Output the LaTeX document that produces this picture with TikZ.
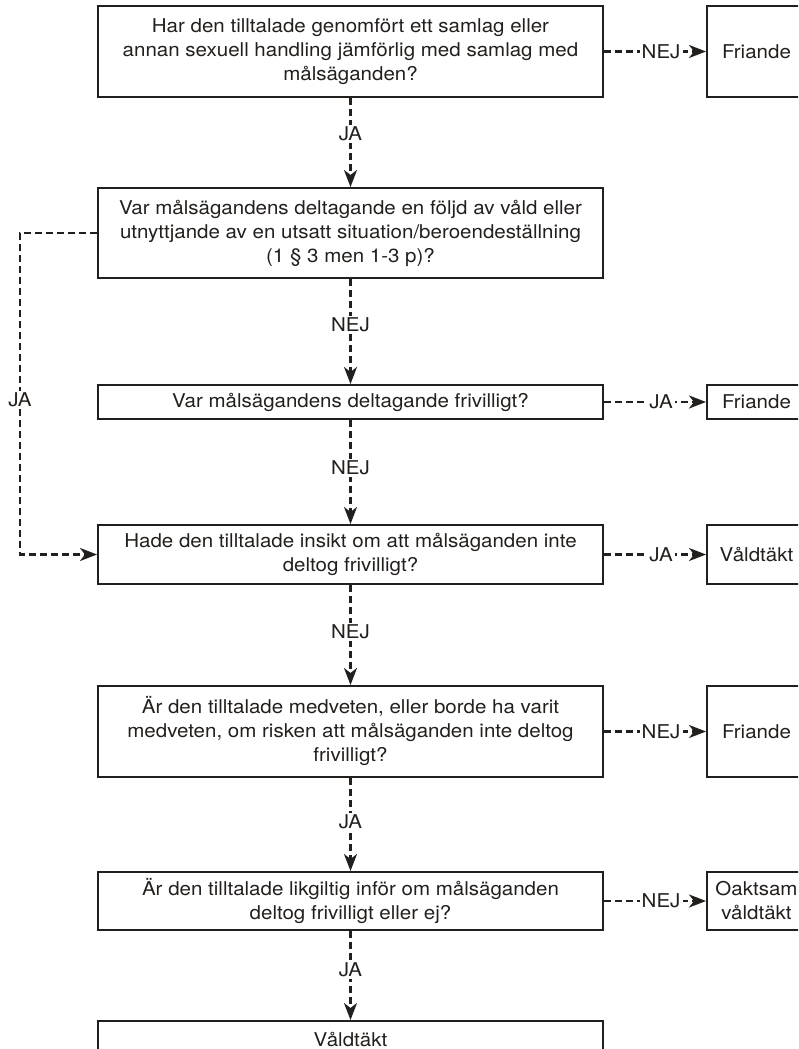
\documentclass[tikz,border=0pt]{standalone}
\usepackage{fontspec}
\setmainfont[FakeStretch=1.08]{TeX Gyre Heros}
\usetikzlibrary{arrows.meta}
\definecolor{ink}{RGB}{35,31,28}
\begin{document}
\begin{tikzpicture}[x=1pt,y=-1pt,
  every node/.style={text=ink, font=\fontsize{19}{24}\selectfont},
  mainbox/.style={draw=ink, line width=2pt, minimum width=505pt, align=center, inner sep=0pt},
  sidebox/.style={draw=ink, line width=2pt, minimum width=99pt, align=center, inner sep=0pt},
  conn/.style={draw=ink, line width=2.4pt, dash pattern=on 7pt off 4pt, -{Stealth[length=17pt,width=13pt,inset=5pt]}},
  lbl/.style={fill=white, inner sep=2pt}
]
\useasboundingbox (0,0) rectangle (798,1049);
\clip (0,0) rectangle (798,1049);

\node[mainbox, minimum height=91pt] (b1) at (350.5,51.5) {Har den tilltalade genomfört ett samlag eller\\annan sexuell handling jämförlig med samlag med\\målsäganden?};
\node[mainbox, minimum height=90pt] (b2) at (350.5,233) {Var målsägandens deltagande en följd av våld eller\\utnyttjande av en utsatt situation/beroendeställning\\(1 § 3 men 1-3 p)?};
\node[mainbox, minimum height=34pt] (b3) at (350.5,402) {Var målsägandens deltagande frivilligt?};
\node[mainbox, minimum height=59pt] (b4) at (350.5,554.5) {Hade den tilltalade insikt om att målsäganden inte\\deltog frivilligt?};
\node[mainbox, minimum height=91pt] (b5) at (350.5,731.5) {Är den tilltalade medveten, eller borde ha varit\\medveten, om risken att målsäganden inte deltog\\frivilligt?};
\node[mainbox, minimum height=58pt] (b6) at (350.5,901) {Är den tilltalade likgiltig inför om målsäganden\\deltog frivilligt eller ej?};
\node[mainbox, minimum height=36pt] (b7) at (350.5,1039) {Våldtäkt};

\node[sidebox, minimum height=91pt] (r1) at (756.5,51.5) {Friande};
\node[sidebox, minimum height=34pt] (r3) at (756.5,402) {Friande};
\node[sidebox, minimum height=59pt] (r4) at (756.5,554.5) {Våldtäkt};
\node[sidebox, minimum height=91pt] (r5) at (756.5,731.5) {Friande};
\node[sidebox, minimum height=58pt] (r6) at (756.5,901) {Oaktsam\\våldtäkt};

% vertical connectors
\draw[conn] (b1) -- node[lbl, pos=0.4] {JA} (b2);
\draw[conn] (b2) -- node[lbl, pos=0.44] {NEJ} (b3);
\draw[conn] (b3) -- node[lbl, pos=0.46] {NEJ} (b4);
\draw[conn] (b4) -- node[lbl, pos=0.47] {NEJ} (b5);
\draw[conn] (b5) -- node[lbl, pos=0.47] {JA} (b6);
\draw[conn] (b6) -- node[lbl, pos=0.44] {JA} (b7);

% horizontal connectors
\draw[conn] (b1) -- node[lbl, pos=0.56] {NEJ} (r1);
\draw[conn] (b3) -- node[lbl, pos=0.56] {JA} (r3);
\draw[conn] (b4) -- node[lbl, pos=0.56] {JA} (r4);
\draw[conn] (b5) -- node[lbl, pos=0.56] {NEJ} (r5);
\draw[conn] (b6) -- node[lbl, pos=0.56] {NEJ} (r6);

% left loop
\coordinate (l1) at (20,233);
\coordinate (l2) at (20,554.5);
\draw[conn] (b2.west) -- (l1) -- node[lbl, pos=0.52] {JA} (l2) -- (b4.west);
\end{tikzpicture}
\end{document}
